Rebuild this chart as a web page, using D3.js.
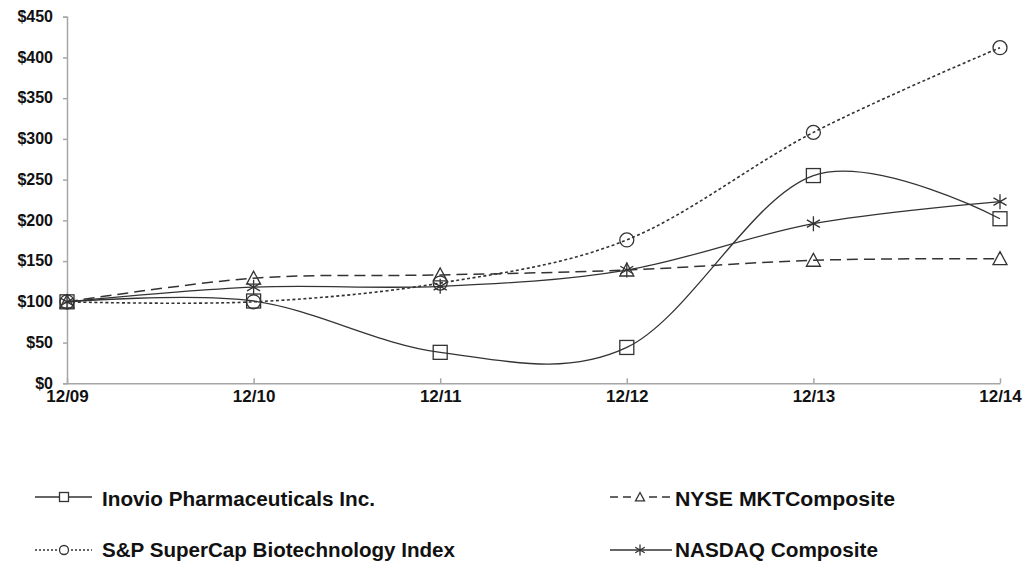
<!DOCTYPE html>
<html>
<head>
<meta charset="utf-8">
<script src="https://cdn.jsdelivr.net/npm/d3@7"></script>
<style>
  html, body { margin: 0; padding: 0; background: #fff; }
  svg { display: block; }
</style>
</head>
<body>
<svg id="chart" width="1029" height="573"></svg>
<script>
// ---- Data ----
const periods = ["12/09", "12/10", "12/11", "12/12", "12/13", "12/14"];
const yTicks = [0, 50, 100, 150, 200, 250, 300, 350, 400, 450];
const inovio = [100, 101, 38, 44, 255, 202];
const nyse = [100, 129, 133, 139, 151, 153];
const sp = [100, 100, 123, 176, 308, 412];
const nasdaq = [100, 118, 119, 139, 196, 223];

const seriesNames = ["Inovio Pharmaceuticals Inc.", "NYSE MKTComposite", "S&P SuperCap Biotechnology Index", "NASDAQ Composite"];

// ---- Layout ----
const svg = d3.select("#chart");
const x = d3.scalePoint().domain(periods).range([67, 1000]);
const y = d3.scaleLinear().domain([0, 450]).range([383.3, 16.7]);

const axisColor = "#a6a6a6";
const lineColor = "#333";
const font = "'Liberation Sans', Arial, sans-serif";

// Y axis
const yAxis = svg.append("g").attr("transform", `translate(${x(periods[0])},0)`)
  .call(d3.axisLeft(y).tickValues(yTicks).tickSize(4).tickPadding(10).tickFormat(d => "$" + d));
yAxis.select(".domain").attr("stroke", axisColor).attr("stroke-width", 1.5);
yAxis.selectAll(".tick line").attr("stroke", axisColor).attr("stroke-width", 1.5);
yAxis.selectAll(".tick text").attr("fill", "#111").style("font-family", font)
  .style("font-size", "16px").style("font-weight", "bold").attr("x", -14).attr("dy", "0.3em");

// X axis
const xAxis = svg.append("g").attr("transform", `translate(0,${y(0)})`)
  .call(d3.axisBottom(x).tickSizeInner(-5).tickSizeOuter(0).tickPadding(0));
xAxis.select(".domain").attr("stroke", axisColor).attr("stroke-width", 1.5);
xAxis.selectAll(".tick line").attr("stroke", axisColor).attr("stroke-width", 1.5);
xAxis.selectAll(".tick text").attr("fill", "#111").style("font-family", font)
  .style("font-size", "17px").style("font-weight", "bold").attr("y", 19).attr("dy", "0");

// Lines
const curve = d3.curveCardinal.tension(0);
const lineGen = d3.line().x((d, i) => x(periods[i])).y(d => y(d)).curve(curve);

const series = [
  { name: seriesNames[0], values: inovio, dash: null, width: 1.3, marker: "square" },
  { name: seriesNames[1], values: nyse, dash: "11,6", width: 1.5, marker: "triangle" },
  { name: seriesNames[2], values: sp, dash: "3,2.5", width: 1.6, marker: "circle" },
  { name: seriesNames[3], values: nasdaq, dash: null, width: 1.3, marker: "star" }
];

series.forEach(s => {
  svg.append("path").datum(s.values)
    .attr("d", lineGen)
    .attr("fill", "none")
    .attr("stroke", lineColor)
    .attr("stroke-width", s.width)
    .attr("stroke-dasharray", s.dash);
});

function drawMarker(g, type, cx, cy, size) {
  const h = size / 2;
  let el;
  if (type === "square") {
    el = g.append("rect").attr("x", cx - h).attr("y", cy - h).attr("width", size).attr("height", size);
  } else if (type === "circle") {
    el = g.append("circle").attr("cx", cx).attr("cy", cy).attr("r", h);
  } else if (type === "triangle") {
    el = g.append("path").attr("d", `M${cx},${cy - h} L${cx + h},${cy + h * 0.85} L${cx - h},${cy + h * 0.85} Z`);
  } else if (type === "star") {
    const a = h * 0.87, b = h * 0.5;
    el = g.append("path").attr("d",
      `M${cx},${cy - h} L${cx},${cy + h} M${cx - a},${cy - b} L${cx + a},${cy + b} M${cx - a},${cy + b} L${cx + a},${cy - b}`);
  }
  el.attr("fill", "none").attr("stroke", "#333").attr("stroke-width", 1.3);
}

const markers = svg.append("g");
series.forEach(s => {
  s.values.forEach((v, i) => drawMarker(markers, s.marker, x(periods[i]), y(v), s.marker === "star" ? 15 : 14));
});

// Legend
const legendItems = [
  { s: series[0], lx: 35, sx: 64, ex: 92, tx: 102, ty: 506, cy: 497, len: 273 },
  { s: series[1], lx: 610, sx: 640, ex: 672, tx: 675, ty: 506, cy: 497, len: 220 },
  { s: series[2], lx: 35, sx: 64, ex: 92, tx: 102, ty: 557, cy: 550, len: 353 },
  { s: series[3], lx: 610, sx: 640, ex: 672, tx: 675, ty: 557, cy: 550, len: 203 }
];
const legend = svg.append("g");
legendItems.forEach(it => {
  const dash = it.s.marker === "triangle" ? "8,5" : (it.s.marker === "circle" ? "2,2" : null);
  legend.append("line").attr("x1", it.lx).attr("x2", it.ex).attr("y1", it.cy).attr("y2", it.cy)
    .attr("stroke", lineColor).attr("stroke-width", 1.3).attr("stroke-dasharray", dash);
  legend.append("rect").attr("x", it.sx - 5).attr("y", it.cy - 5).attr("width", 10).attr("height", 10)
    .attr("fill", it.s.marker === "star" ? "none" : "#fff");
  drawMarker(legend, it.s.marker, it.sx, it.cy, it.s.marker === "star" ? 11 : 9);
  legend.append("text").attr("x", it.tx).attr("y", it.ty)
    .attr("textLength", it.len).attr("lengthAdjust", "spacingAndGlyphs")
    .style("font-family", "'Liberation Sans Narrow', 'Liberation Sans', Arial, sans-serif")
    .style("font-size", "20px").style("font-weight", "bold").attr("fill", "#111")
    .text(it.s.name);
});
</script>
</body>
</html>
